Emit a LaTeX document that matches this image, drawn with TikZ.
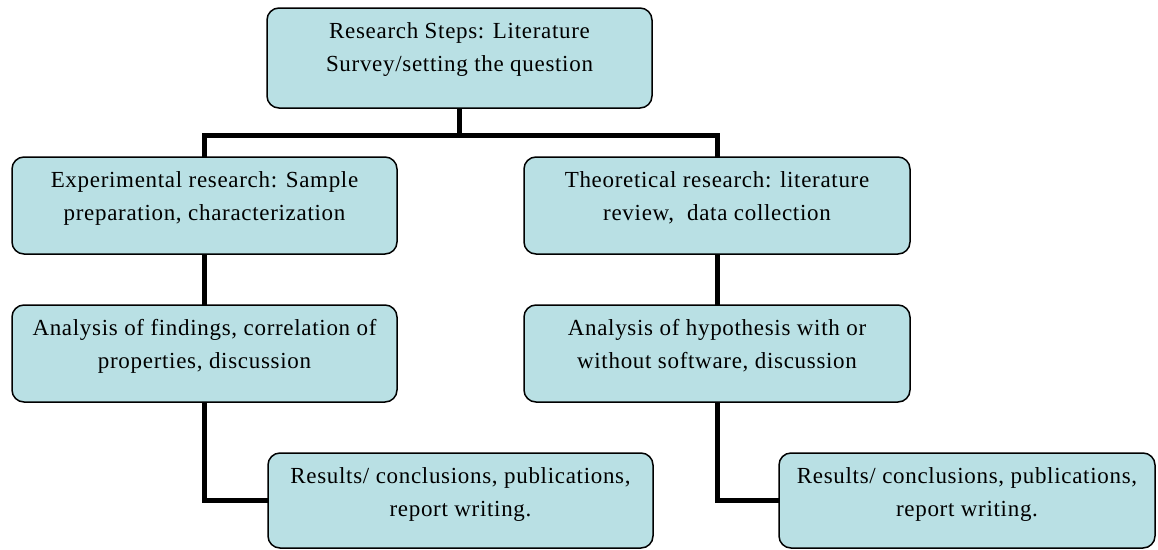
\documentclass[tikz,border=0pt]{standalone}
\usepackage{fontspec}
\setmainfont{Liberation Serif}[LetterSpace=3]
\usetikzlibrary{backgrounds}
\definecolor{boxfill}{RGB}{185,224,228}
\begin{document}
\begin{tikzpicture}[x=1pt,y=-1pt,
  box/.style={draw=black, line width=1.5pt, fill=boxfill, rounded corners=12pt, inner sep=0pt, outer sep=0pt},
  txt/.style={anchor=north, inner sep=0pt, align=center, yshift=-14pt, font=\fontsize{23}{33}\selectfont},
  conn/.style={line width=5pt, draw=black}]
\useasboundingbox (0,0) rectangle (1158,549);
% boxes
\node[box, minimum width=385pt, minimum height=100pt] (top) at (459.5,58) {};
\node[box, minimum width=385pt, minimum height=97pt] (L2) at (204.5,205.5) {};
\node[box, minimum width=386pt, minimum height=97pt] (R2) at (717,205.5) {};
\node[box, minimum width=385pt, minimum height=97pt] (L3) at (204.5,353.5) {};
\node[box, minimum width=386pt, minimum height=97pt] (R3) at (717,353.5) {};
\node[box, minimum width=385pt, minimum height=95pt] (BL) at (460.5,500.5) {};
\node[box, minimum width=376pt, minimum height=95pt] (BR) at (967,500.5) {};
% connectors (behind boxes)
\coordinate (j) at (459.5,135);
\begin{scope}[on background layer]
\draw[conn] (top.south) -- (j);
\draw[conn] (L2.north) |- (j) -| (R2.north);
\draw[conn] (L2.south) -- (L3.north);
\draw[conn] (R2.south) -- (R3.north);
\draw[conn] (L3.south) |- (BL.west);
\draw[conn] (R3.south) |- (BR.west);
\end{scope}
% texts
\node[txt] (topt) at (top.north) {Research Steps: Literature\\Survey/setting the question};
\node[txt] (L2t) at (L2.north) {Experimental research: Sample\\preparation, characterization};
\node[txt] (R2t) at (R2.north) {Theoretical research: literature\\review,\ \ data collection};
\node[txt] (L3t) at (L3.north) {Analysis of findings,\ correlation of\\properties,\ discussion};
\node[txt] (R3t) at (R3.north) {Analysis of hypothesis with or\\without software, discussion};
\node[txt] (BLt) at (BL.north) {Results/ conclusions, publications,\\report writing.};
\node[txt] (BRt) at (BR.north) {Results/ conclusions, publications,\\report writing.};
\end{tikzpicture}
\end{document}
